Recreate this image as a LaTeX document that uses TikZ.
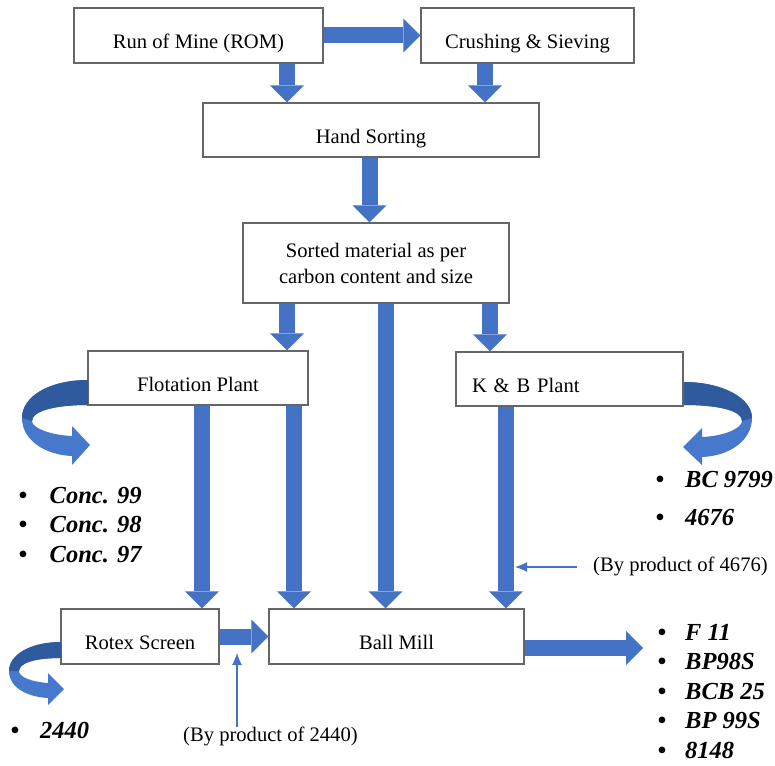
\documentclass[tikz,border=0pt]{standalone}
\usepackage{fontspec}
\setmainfont{Liberation Serif}
\usetikzlibrary{arrows.meta,calc}
\definecolor{ablue}{HTML}{4472C4}
\definecolor{dblue}{HTML}{2F5A9E}
\definecolor{lblue}{HTML}{4679CC}
\newcommand\lbul[1]{\makebox[#1][l]{\textbullet}}
\begin{document}
\begin{tikzpicture}[x=1pt,y=-1pt,
  boxbase/.style={draw=black!60, line width=1.1pt, fill=white, rectangle, inner sep=0pt,
    minimum height=55pt, font=\fontsize{20.6}{26}\selectfont},
  box/.style={boxbase, text height=26pt, text depth=0pt},
  barrow/.style={draw=ablue, line width=16pt,
    -{Triangle[length=17pt 0 1, width=34pt 0 1, line width=0pt 0 0]}},
  thinarrow/.style={draw=ablue, line width=1.1pt,
    -{Latex[length=12pt 0 1, width=10pt 0 1]}},
  lst/.style={inner sep=0pt, anchor=base west},
  lbl/.style={inner sep=0pt, anchor=base west, font=\fontsize{20.6}{26}\selectfont},
  ribbonlight/.style={fill=lblue},
  ribbondark/.style={fill=dblue}]
\useasboundingbox (0,0) rectangle (775,765);

% boxes
\node[box, minimum width=249pt] (rom) at (198.5,35.5) {Run of Mine (ROM)};
\node[box, minimum width=213pt] (crush) at (527.5,35.5) {Crushing \& Sieving};
\node[box, minimum width=336pt, minimum height=54pt] (hand) at (371,130) {Hand Sorting};
\node[boxbase, minimum width=266pt, minimum height=80pt, align=center] (sorted) at (376,263)
  {Sorted material as per\\carbon content and size};
\node[box, minimum width=220pt, minimum height=54pt] (flot) at (198,378) {Flotation Plant};
\node[box, minimum width=227pt, minimum height=54pt, text width=195pt, inner xsep=16pt, align=left] (kb) at (569.5,379) {K \& B Plant};
\node[box, minimum width=158pt] (rotex) at (140,636.5) {Rotex Screen};
\node[box, minimum width=255pt] (ball) at (396.5,636.5) {Ball Mill};

% helper coordinates
\coordinate (x287) at (287,0);
\coordinate (x485) at (485,0);
\coordinate (x369) at (369.5,0);
\coordinate (x385) at (385.5,0);
\coordinate (x490) at (490,0);
\coordinate (x202) at (202,0);
\coordinate (x294) at (294,0);
\coordinate (x506) at (506,0);
\coordinate (yout) at (0,648);
\coordinate (outend) at (643,648);

% block arrows
\draw[barrow] (rom) -- (crush);
\draw[barrow] (rom.south -| x287) -- (hand.north -| x287);
\draw[barrow] (crush.south -| x485) -- (hand.north -| x485);
\draw[barrow] (hand.south -| x369) -- (sorted.north -| x369);
\draw[barrow] (sorted.south -| x287) -- (flot.north -| x287);
\draw[barrow] (sorted.south -| x385) -- (ball.north -| x385);
\draw[barrow] (sorted.south -| x490) -- (kb.north -| x490);
\draw[barrow] (flot.south -| x202) -- (rotex.north -| x202);
\draw[barrow] (flot.south -| x294) -- (ball.north -| x294);
\draw[barrow] (kb.south -| x506) -- (ball.north -| x506);
\draw[barrow] (rotex) -- (ball);
\draw[barrow] (ball.east |- yout) -- (outend);

% curved ribbon arrows
% Flotation (left)
\fill[ribbonlight] (88,380) .. controls (50,380) and (22,396) .. (22,418)
  .. controls (22,440) and (45,455) .. (72,456)
  -- (72,465) -- (90,445) -- (72,426) -- (72,436)
  .. controls (50,435) and (32,428) .. (32,421)
  .. controls (32,411) and (55,405) .. (88,405) -- cycle;
\fill[ribbondark] (88,380) .. controls (50,380) and (22,396) .. (22,418)
  -- (32,421) .. controls (32,411) and (55,405) .. (88,405) -- cycle;
% K & B (right)
\fill[ribbonlight] (684,382) .. controls (722,382) and (752,398) .. (752,418)
  .. controls (752,440) and (730,456) .. (702,457)
  -- (702,465) -- (683,447) -- (702,428) -- (702,437)
  .. controls (725,436) and (742,428) .. (742,421)
  .. controls (742,411) and (720,405) .. (684,405) -- cycle;
\fill[ribbondark] (684,382) .. controls (722,382) and (752,398) .. (752,418)
  -- (742,421) .. controls (742,411) and (720,405) .. (684,405) -- cycle;
% Rotex (left)
\fill[ribbonlight] (61,642) .. controls (30,642) and (9,655) .. (9,671)
  .. controls (9,688) and (28,697) .. (48,698)
  -- (48,705) -- (64,689) -- (48,673) -- (48,683)
  .. controls (32,682) and (19,677) .. (19,671)
  .. controls (19,663) and (35,658) .. (61,658) -- cycle;
\fill[ribbondark] (61,642) .. controls (30,642) and (9,655) .. (9,671)
  -- (19,671) .. controls (19,663) and (35,658) .. (61,658) -- cycle;

% thin arrows and labels
\coordinate (bp1s) at (577,567);
\coordinate (bp1e) at (515,567);
\coordinate (bp2s) at (237,727);
\coordinate (bp2e) at (237,653);
\draw[thinarrow] (bp1s) -- (bp1e);
\draw[thinarrow] (bp2s) -- (bp2e);
\node[lbl] (by4676) at (593,571) {(By product of 4676)};
\node[lbl] (by2440) at (183,741) {(By product of 2440)};

% product lists
\node[lst, font=\fontsize{24.5}{29.5}\selectfont\bfseries\itshape] (concs) at (18.5,503)
  {\begin{tabular}[t]{@{}l@{}}\lbul{31pt}Conc. 99\\\lbul{31pt}Conc. 98\\\lbul{31pt}Conc. 97\end{tabular}};
\node[lst, font=\fontsize{24.5}{38.5}\selectfont\bfseries\itshape] (kbprod) at (655.5,487)
  {\begin{tabular}[t]{@{}l@{}}\lbul{29.5pt}BC 9799\\\lbul{29.5pt}4676\end{tabular}};
\node[lst, font=\fontsize{24.5}{29.5}\selectfont\bfseries\itshape] (millprod) at (657.5,640)
  {\begin{tabular}[t]{@{}l@{}}\lbul{27.5pt}F 11\\\lbul{27.5pt}BP98S\\\lbul{27.5pt}BCB 25\\\lbul{27.5pt}BP 99S\\\lbul{27.5pt}8148\end{tabular}};
\node[lst, font=\fontsize{24.5}{30}\selectfont\bfseries\itshape] (rotexprod) at (10.5,738)
  {\begin{tabular}[t]{@{}l@{}}\lbul{29.5pt}2440\end{tabular}};
\end{tikzpicture}
\end{document}
